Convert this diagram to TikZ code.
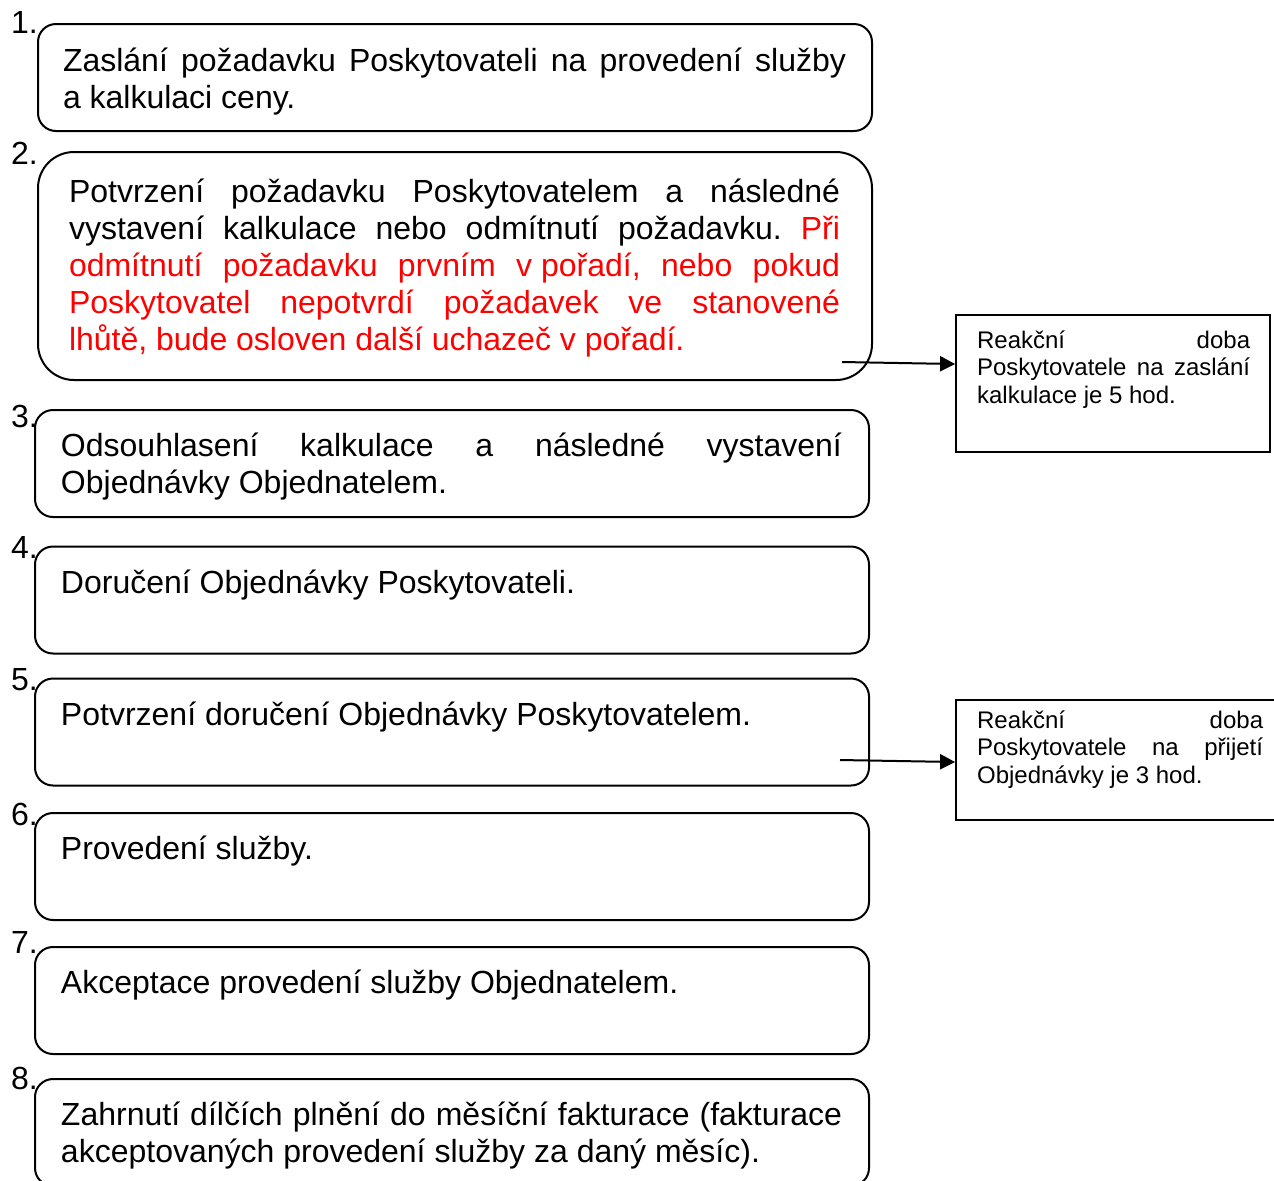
\documentclass[tikz,border=0pt]{standalone}
\usepackage{fontspec}
\setmainfont{Liberation Sans}
\usetikzlibrary{positioning,arrows.meta}
\setlength{\parindent}{0pt}
\frenchspacing
\hyphenpenalty=10000
\exhyphenpenalty=10000
\tolerance=9999
\hbadness=10000
\newcommand{\bigtxt}{\fontsize{16}{18.5}\selectfont}
\newcommand{\smalltxt}{\fontsize{12}{13.75}\selectfont}

\begin{document}
\begin{tikzpicture}[
	x=0.5pt,y=-0.5pt,
	line width=1pt,
	stepbox/.style={draw,rounded corners=9pt,minimum width=417pt,minimum height=53.5pt,inner sep=0pt},
	steptext/.style={inner sep=0pt,text width=390.5pt,align=justify,font=\bigtxt},
	num/.style={inner sep=0pt,anchor=base west,font=\bigtxt},
	reaction/.style={draw,line width=0.9pt,minimum width=157pt,minimum height=68.5pt,inner sep=0pt},
	reacttext/.style={inner sep=0pt,text width=136.5pt,align=justify,font=\smalltxt},
	arr/.style={-{Triangle[length=7.5pt,width=7.5pt]}},
	]
\useasboundingbox (0,0) rectangle (1274,1180);

\node [stepbox] (s1) at (455,77.5) {};
\node [stepbox,rounded corners=18pt,minimum height=114pt] (s2) at (455,266) {};
\node [stepbox] (s3) at (452,463.5) {};
\node [stepbox] (s4) at (452,600) {};
\node [stepbox] (s5) at (452,732) {};
\node [stepbox] (s6) at (452,866.5) {};
\node [stepbox] (s7) at (452,1000.5) {};
\node [stepbox] (s8) at (452,1132.5) {};

\node [num] (n1) at (10,33) {1.};
\node [num] (n2) at (10,164) {2.};
\node [num] (n3) at (10,427) {3.};
\node [num] (n4) at (10,558) {4.};
\node [num] (n5) at (10,690) {5.};
\node [num] (n6) at (10,825) {6.};
\node [num] (n7) at (10,953) {7.};
\node [num] (n8) at (10,1089) {8.};

\node [steptext,text width=391.5pt,below right=11pt and 12.5pt of s1.north west] (t1)
	{\strut Zaslání požadavku Poskytovateli na provedení služby\linebreak a kalkulaci ceny.};
\node [steptext,text width=385.5pt,below right=12.5pt and 15.5pt of s2.north west] (t2)
	{\strut Potvrzení požadavku Poskytovatelem a následné\linebreak
	vystavení kalkulace nebo odmítnutí požadavku. {\color{red}Při\linebreak
	odmítnutí požadavku prvním \mbox{v pořadí}, nebo pokud\linebreak
	Poskytovatel nepotvrdí požadavek ve stanovené\linebreak
	lhůtě, bude osloven další uchazeč \mbox{v pořadí}.}};
\node [steptext,below right=10.5pt and 13pt of s3.north west] (t3)
	{\strut Odsouhlasení kalkulace a následné vystavení\linebreak Objednávky Objednatelem.};
\node [steptext,below right=10.5pt and 13pt of s4.north west] (t4)
	{\strut Doručení Objednávky Poskytovateli.};
\node [steptext,below right=10.5pt and 13pt of s5.north west] (t5)
	{\strut Potvrzení doručení Objednávky Poskytovatelem.};
\node [steptext,below right=10.5pt and 13pt of s6.north west] (t6)
	{\strut Provedení služby.};
\node [steptext,below right=10.5pt and 13pt of s7.north west] (t7)
	{\strut Akceptace provedení služby Objednatelem.};
\node [steptext,below right=10.5pt and 13pt of s8.north west] (t8)
	{\strut Zahrnutí dílčích plnění do měsíční fakturace (fakturace\linebreak akceptovaných provedení služby za daný měsíc).};

\node [reaction] (r1) at (1113,383.5) {};
\node [reaction,minimum width=163.5pt,minimum height=60pt] (r2) at (1119.5,760) {};
\node [reacttext,below right=6.9pt and 10.5pt of r1.north west] (q1)
	{\strut Reakční doba\linebreak Poskytovatele na zaslání\linebreak kalkulace je 5 hod.};
\node [reacttext,text width=143pt,below right=4.4pt and 10.5pt of r2.north west] (q2)
	{\strut Reakční doba\linebreak Poskytovatele na přijetí\linebreak Objednávky je 3 hod.};

\coordinate (a1) at (842,362);
\draw [arr] (a1) -- ([yshift=9.75pt]r1.west);
\coordinate (a2) at (840,760);
\draw [arr] (a2) -- ([yshift=-1pt]r2.west);
\end{tikzpicture}
\end{document}
